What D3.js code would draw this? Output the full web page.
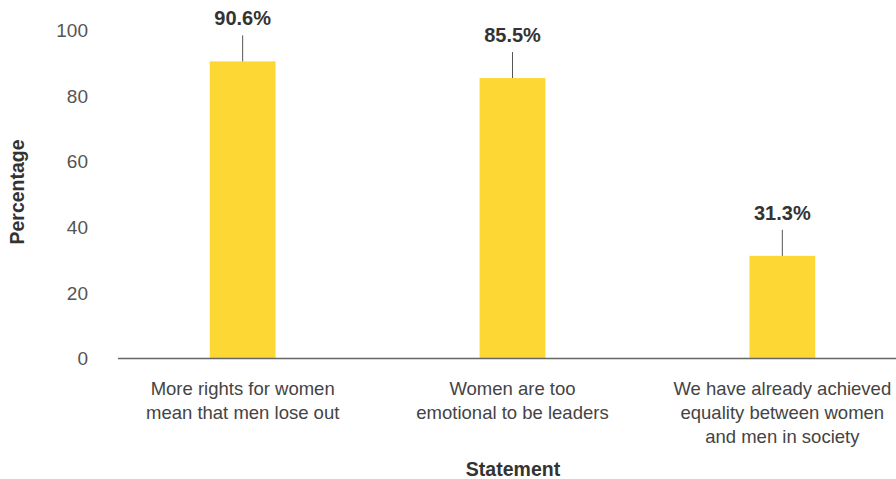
<!DOCTYPE html>
<html><head><meta charset="utf-8">
<script src="https://cdn.jsdelivr.net/npm/d3@7"></script>
<style>body{margin:0;background:#fff}svg{display:block}text{font-family:"Liberation Sans",Arial,sans-serif}</style>
</head><body>
<svg id="c" width="896" height="479"></svg>
<script>
const categories = [
  ["More rights for women","mean that men lose out"],
  ["Women are too","emotional to be leaders"],
  ["We have already achieved","equality between women","and men in society"]
];
const values = [90.6, 85.5, 31.3];
const yTicks = [0, 20, 40, 60, 80, 100];
const xTitle = "Statement";
const yTitle = "Percentage";

const W = 896, H = 479;
const svg = d3.select("#c");
const y = d3.scaleLinear().domain([0, 100]).range([358.5, 30.5]);
const idx = categories.map((d,i)=>i);
const x = d3.scaleBand().domain(idx).range([118, 907]).paddingInner(0.756).paddingOuter(0.34);

// y tick labels
svg.append("g").selectAll("text").data(yTicks).join("text")
  .attr("x", 88).attr("y", d => y(d)).attr("dy", "0.35em")
  .attr("text-anchor", "end").attr("font-size", 19).attr("fill", "#555")
  .text(d => d);

// bars
svg.append("g").selectAll("rect").data(values).join("rect")
  .attr("x", (d,i) => x(i)).attr("width", x.bandwidth())
  .attr("y", d => y(d)).attr("height", d => y(0) - y(d))
  .attr("fill", "#FDD835");

// baseline
svg.append("line").attr("x1", 118).attr("x2", W).attr("y1", y(0)).attr("y2", y(0))
  .attr("stroke", "#666").attr("stroke-width", 1.5);

// leader lines and value labels
const g = svg.append("g");
values.forEach((v,i) => {
  const cx = x(i) + x.bandwidth()/2;
  g.append("line").attr("x1", cx).attr("x2", cx).attr("y1", y(v)).attr("y2", y(v) - 26)
    .attr("stroke", "#555").attr("stroke-width", 1);
  g.append("text").attr("x", cx).attr("y", y(v) - 36)
    .attr("text-anchor", "middle").attr("font-size", 20).attr("font-weight", "bold").attr("fill", "#333")
    .text(v.toFixed(1) + "%");
});

// x labels
categories.forEach((lines,i) => {
  const cx = x(i) + x.bandwidth()/2;
  const t = svg.append("text").attr("text-anchor", "middle").attr("font-size", 18.5).attr("fill", "#444");
  lines.forEach((l,j) => t.append("tspan").attr("x", cx).attr("y", 395 + j*24).text(l));
});

// axis titles
svg.append("text").attr("x", 513).attr("y", 476).attr("text-anchor", "middle")
  .attr("font-size", 19.5).attr("font-weight", "bold").attr("fill", "#333").text(xTitle);
svg.append("text").attr("transform", "translate(24,192) rotate(-90)").attr("text-anchor", "middle")
  .attr("font-size", 19.5).attr("font-weight", "bold").attr("fill", "#333").text(yTitle);
</script>
</body></html>
